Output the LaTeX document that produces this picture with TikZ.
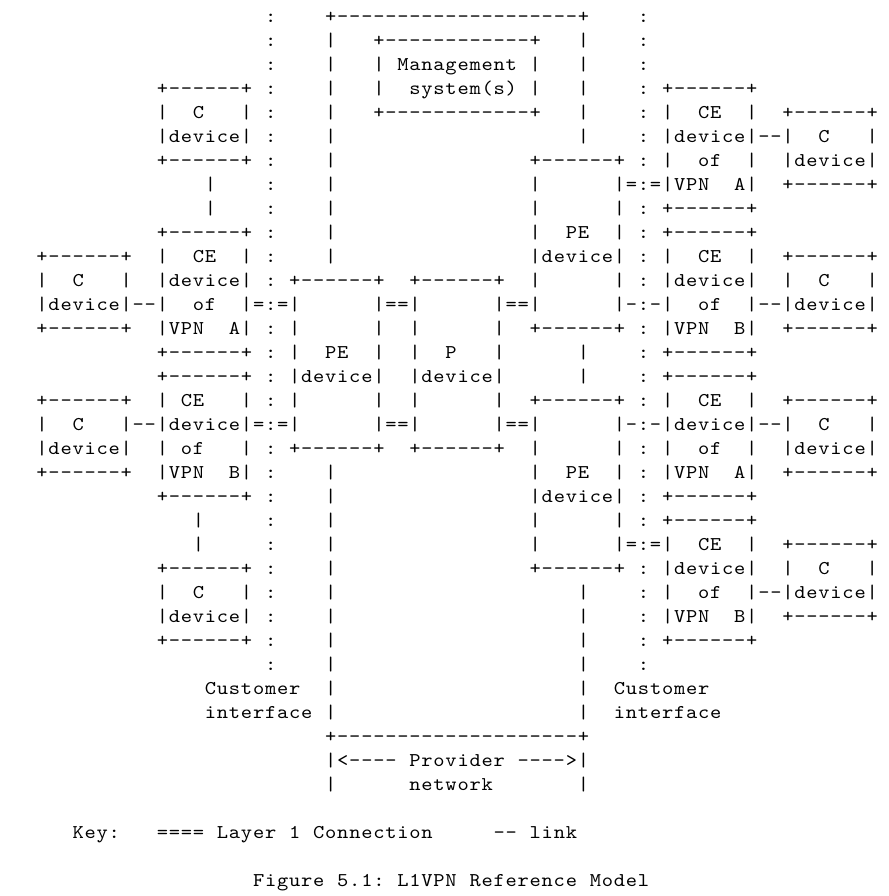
\documentclass[tikz,border=0pt]{standalone}
\usepackage{fontspec}
\newfontfamily\asciifont{lmmono10-regular.otf}[FakeStretch=1.1]
\newcommand\sk[1]{\hspace*{\dimexpr 12.03pt*#1\relax}}
\def\cellsA#1{%
  \ifx#1\relax \let\cellnext\relax
  \else\ifx#1\sk \let\cellnext\cellsSk
  \else \makebox[12.03pt]{#1}\let\cellnext\cellsA
  \fi\fi\cellnext}
\def\cellsSk#1{\hspace*{\dimexpr 12.03pt*#1\relax}\cellsA}
\tikzset{asciiline/.style={anchor=base west, inner sep=0pt, outer sep=0pt, text=black,
  font=\asciifont\fontsize{19.5pt}{24pt}\selectfont}}
\newcommand\asciirow[2]{\node[asciiline] (l#1) at (0,{-22.3-24*(#1-1)}) {\cellsA#2\relax};}
\begin{document}
\begin{tikzpicture}[x=1pt,y=1pt]
\fill[white] (0,0) rectangle (888,-896);
\useasboundingbox (0,0) rectangle (888,-896);
\asciirow{1}{\sk{22}:\sk{4}+--------------------+\sk{4}:}
\asciirow{2}{\sk{22}:\sk{4}|\sk{3}+------------+\sk{3}|\sk{4}:}
\asciirow{3}{\sk{22}:\sk{4}|\sk{3}|\sk{1}Management\sk{1}|\sk{3}|\sk{4}:}
\asciirow{4}{\sk{13}+------+\sk{1}:\sk{4}|\sk{3}|\sk{2}system(s)\sk{1}|\sk{3}|\sk{4}:\sk{1}+------+}
\asciirow{5}{\sk{13}|\sk{2}C\sk{3}|\sk{1}:\sk{4}|\sk{3}+------------+\sk{3}|\sk{4}:\sk{1}|\sk{2}CE\sk{2}|\sk{2}+------+}
\asciirow{6}{\sk{13}|device|\sk{1}:\sk{4}|\sk{20}|\sk{4}:\sk{1}|device|--|\sk{2}C\sk{3}|}
\asciirow{7}{\sk{13}+------+\sk{1}:\sk{4}|\sk{16}+------+\sk{1}:\sk{1}|\sk{2}of\sk{2}|\sk{2}|device|}
\asciirow{8}{\sk{17}|\sk{4}:\sk{4}|\sk{16}|\sk{6}|=:=|VPN\sk{2}A|\sk{2}+------+}
\asciirow{9}{\sk{17}|\sk{4}:\sk{4}|\sk{16}|\sk{6}|\sk{1}:\sk{1}+------+}
\asciirow{10}{\sk{13}+------+\sk{1}:\sk{4}|\sk{16}|\sk{2}PE\sk{2}|\sk{1}:\sk{1}+------+}
\asciirow{11}{\sk{3}+------+\sk{2}|\sk{2}CE\sk{2}|\sk{1}:\sk{4}|\sk{16}|device|\sk{1}:\sk{1}|\sk{2}CE\sk{2}|\sk{2}+------+}
\asciirow{12}{\sk{3}|\sk{2}C\sk{3}|\sk{2}|device|\sk{1}:\sk{1}+------+\sk{2}+------+\sk{2}|\sk{6}|\sk{1}:\sk{1}|device|\sk{2}|\sk{2}C\sk{3}|}
\asciirow{13}{\sk{3}|device|--|\sk{2}of\sk{2}|=:=|\sk{6}|==|\sk{6}|==|\sk{6}|-:-|\sk{2}of\sk{2}|--|device|}
\asciirow{14}{\sk{3}+------+\sk{2}|VPN\sk{2}A|\sk{1}:\sk{1}|\sk{6}|\sk{2}|\sk{6}|\sk{2}+------+\sk{1}:\sk{1}|VPN\sk{2}B|\sk{2}+------+}
\asciirow{15}{\sk{13}+------+\sk{1}:\sk{1}|\sk{2}PE\sk{2}|\sk{2}|\sk{2}P\sk{3}|\sk{6}|\sk{4}:\sk{1}+------+}
\asciirow{16}{\sk{13}+------+\sk{1}:\sk{1}|device|\sk{2}|device|\sk{6}|\sk{4}:\sk{1}+------+}
\asciirow{17}{\sk{3}+------+\sk{2}|\sk{1}CE\sk{3}|\sk{1}:\sk{1}|\sk{6}|\sk{2}|\sk{6}|\sk{2}+------+\sk{1}:\sk{1}|\sk{2}CE\sk{2}|\sk{2}+------+}
\asciirow{18}{\sk{3}|\sk{2}C\sk{3}|--|device|=:=|\sk{6}|==|\sk{6}|==|\sk{6}|-:-|device|--|\sk{2}C\sk{3}|}
\asciirow{19}{\sk{3}|device|\sk{2}|\sk{1}of\sk{3}|\sk{1}:\sk{1}+------+\sk{2}+------+\sk{2}|\sk{6}|\sk{1}:\sk{1}|\sk{2}of\sk{2}|\sk{2}|device|}
\asciirow{20}{\sk{3}+------+\sk{2}|VPN\sk{2}B|\sk{1}:\sk{4}|\sk{16}|\sk{2}PE\sk{2}|\sk{1}:\sk{1}|VPN\sk{2}A|\sk{2}+------+}
\asciirow{21}{\sk{13}+------+\sk{1}:\sk{4}|\sk{16}|device|\sk{1}:\sk{1}+------+}
\asciirow{22}{\sk{16}|\sk{5}:\sk{4}|\sk{16}|\sk{6}|\sk{1}:\sk{1}+------+}
\asciirow{23}{\sk{16}|\sk{5}:\sk{4}|\sk{16}|\sk{6}|=:=|\sk{2}CE\sk{2}|\sk{2}+------+}
\asciirow{24}{\sk{13}+------+\sk{1}:\sk{4}|\sk{16}+------+\sk{1}:\sk{1}|device|\sk{2}|\sk{2}C\sk{3}|}
\asciirow{25}{\sk{13}|\sk{2}C\sk{3}|\sk{1}:\sk{4}|\sk{20}|\sk{4}:\sk{1}|\sk{2}of\sk{2}|--|device|}
\asciirow{26}{\sk{13}|device|\sk{1}:\sk{4}|\sk{20}|\sk{4}:\sk{1}|VPN\sk{2}B|\sk{2}+------+}
\asciirow{27}{\sk{13}+------+\sk{1}:\sk{4}|\sk{20}|\sk{4}:\sk{1}+------+}
\asciirow{28}{\sk{22}:\sk{4}|\sk{20}|\sk{4}:}
\asciirow{29}{\sk{17}Customer\sk{2}|\sk{20}|\sk{2}Customer}
\asciirow{30}{\sk{17}interface\sk{1}|\sk{20}|\sk{2}interface}
\asciirow{31}{\sk{27}+--------------------+}
\asciirow{32}{\sk{27}|<----\sk{1}Provider\sk{1}---->|}
\asciirow{33}{\sk{27}|\sk{6}network\sk{7}|}
\asciirow{35}{\sk{6}Key:\sk{3}====\sk{1}Layer\sk{1}1\sk{1}Connection\sk{5}--\sk{1}link}
\asciirow{37}{\sk{21}Figure\sk{1}5.1:\sk{1}L1VPN\sk{1}Reference\sk{1}Model}
\end{tikzpicture}
\end{document}
